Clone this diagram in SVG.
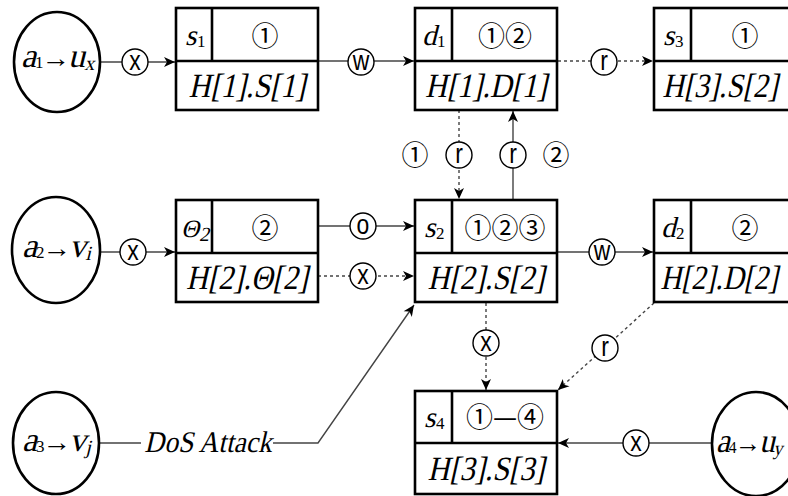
<svg xmlns="http://www.w3.org/2000/svg" width="788" height="496" viewBox="0 0 788 496">
  <style>
    .bx rect { fill: #fff; stroke: #000; stroke-width: 2.6; }
    .bx line { stroke: #000; stroke-width: 2.6; }
    .ag ellipse { fill: #fff; stroke: #000; stroke-width: 2.6; }
    /* serif text; slanted ones get a skewX transform */
    .sf { font-family: "Liberation Serif", serif; font-style: normal; fill: #000; }
    .big { font-size: 34px; text-anchor: middle; }
    .cell { font-size: 29px; }
    .sub { font-size: 17px; }
    .subi { font-size: 20px; }
    .arr { font-size: 26px; text-anchor: middle; }
    .cd { font-family: "Noto Sans CJK JP", "DejaVu Sans", sans-serif; font-size: 27px; text-anchor: middle; fill: #000; }
    .c { fill: none; stroke: #444; stroke-width: 1.4; }
    .d { stroke-dasharray: 3 3; }
    .lb circle { fill: #fff; stroke: #000; stroke-width: 1.4; }
    .lb text { font-family: "Liberation Sans", sans-serif; font-size: 27px; text-anchor: middle; fill: #000; }
  </style>
  <defs>
    <marker id="ah" viewBox="-1 -6 13 12" markerWidth="13" markerHeight="12" refX="11" refY="0" orient="auto" markerUnits="userSpaceOnUse">
      <path d="M0,-5 L11,0 L0,5 L3,0 Z" fill="#000"/>
    </marker>
  </defs>
  <rect width="788" height="496" fill="#fff"/>

  <!-- connectors and their operation labels -->
  <g id="connectors">
    <path class="c" d="M100,62 H175" marker-end="url(#ah)"/>
    <path class="c" d="M318,61 H414" marker-end="url(#ah)"/>
    <path class="c d" d="M558,61 H653" marker-end="url(#ah)"/>
    <path class="c" d="M100,252 H175" marker-end="url(#ah)"/>
    <path class="c" d="M318,226 H414" marker-end="url(#ah)"/>
    <path class="c d" d="M318,276 H414" marker-end="url(#ah)"/>
    <path class="c" d="M557,252 H653" marker-end="url(#ah)"/>
    <path class="c d" d="M459,110 V199" marker-end="url(#ah)"/>
    <path class="c" d="M513,200 V111" marker-end="url(#ah)"/>
    <path class="c d" d="M486,303 V390" marker-end="url(#ah)"/>
    <path class="c d" d="M654,303 L558,390" marker-end="url(#ah)"/>
    <path class="c" d="M712,443 H558" marker-end="url(#ah)"/>
    <path class="c" d="M100,443 H141 M273,443 H318 L414,305" marker-end="url(#ah)"/>
    <text class="sf" font-size="30" text-anchor="middle" transform="translate(208,452) scale(0.915,1) skewX(-14)">DoS Attack</text>

    <g class="lb">
      <circle cx="135" cy="62" r="13"/><text transform="translate(135,70) scale(0.85,1)">x</text>
      <circle cx="361" cy="62" r="13"/><text transform="translate(361,70) scale(0.85,1)">w</text>
      <circle cx="604" cy="62" r="13"/><text transform="translate(604,70) scale(0.85,1)">r</text>
      <circle cx="133" cy="252" r="13"/><text transform="translate(133,260) scale(0.85,1)">x</text>
      <circle cx="363" cy="226" r="13"/><text transform="translate(363,234) scale(0.85,1)">o</text>
      <circle cx="363" cy="276" r="13"/><text transform="translate(363,284) scale(0.85,1)">x</text>
      <circle cx="602" cy="252" r="13"/><text transform="translate(602,260) scale(0.85,1)">w</text>
      <circle cx="459" cy="155" r="13"/><text transform="translate(459,163) scale(0.85,1)">r</text>
      <circle cx="513" cy="155" r="13"/><text transform="translate(513,163) scale(0.85,1)">r</text>
      <circle cx="486" cy="343" r="13"/><text transform="translate(486,351) scale(0.85,1)">x</text>
      <circle cx="605" cy="348" r="13"/><text transform="translate(605,356) scale(0.85,1)">r</text>
      <circle cx="636" cy="443" r="13"/><text transform="translate(636,451) scale(0.85,1)">x</text>
    </g>
    <text class="cd" x="415" y="165">①</text>
    <text class="cd" x="556" y="165">②</text>
  </g>

  <!-- agents: a_k → target -->
  <g id="a1" class="ag">
    <ellipse cx="57" cy="62" rx="43" ry="50"/>
    <g transform="translate(21,67)">
      <text class="sf" font-size="34" transform="skewX(-14)">a</text>
      <text class="sf sub" x="14" y="1">1</text>
      <text class="sf arr" transform="translate(35,0) scale(1.1,1)">→</text>
      <text class="sf" font-size="34" x="47" transform="skewX(-14)">u</text>
      <text class="sf subi" x="64" y="3" transform="skewX(-14)">x</text>
    </g>
  </g>
  <g id="a2" class="ag">
    <ellipse cx="56" cy="250" rx="44" ry="53"/>
    <g transform="translate(22,257)">
      <text class="sf" font-size="34" transform="skewX(-14)">a</text>
      <text class="sf sub" x="14" y="1">2</text>
      <text class="sf arr" transform="translate(35,0) scale(1.1,1)">→</text>
      <text class="sf" font-size="34" x="47" transform="skewX(-14)">v</text>
      <text class="sf subi" x="64" y="3" transform="skewX(-14)">i</text>
    </g>
  </g>
  <g id="a3" class="ag">
    <ellipse cx="56" cy="443" rx="43" ry="51"/>
    <g transform="translate(22,451)">
      <text class="sf" font-size="34" transform="skewX(-14)">a</text>
      <text class="sf sub" x="14" y="1">3</text>
      <text class="sf arr" transform="translate(35,0) scale(1.1,1)">→</text>
      <text class="sf" font-size="34" x="47" transform="skewX(-14)">v</text>
      <text class="sf subi" x="64" y="3" transform="skewX(-14)">j</text>
    </g>
  </g>
  <g id="a4" class="ag">
    <ellipse cx="756" cy="444" rx="44" ry="52"/>
    <g transform="translate(716,452) scale(0.92,1)">
      <text class="sf" font-size="34" transform="skewX(-14)">a</text>
      <text class="sf sub" x="14" y="1">4</text>
      <text class="sf arr" transform="translate(35,0) scale(1.1,1)">→</text>
      <text class="sf" font-size="34" x="47" transform="skewX(-14)">u</text>
      <text class="sf subi" x="63" y="3" transform="skewX(-14)">y</text>
    </g>
  </g>

  <!-- state boxes -->
  <g id="s1" class="bx">
    <rect x="176" y="8" width="142" height="102"/>
    <line x1="176" y1="61" x2="318" y2="61"/><line x1="212" y1="8" x2="212" y2="61"/>
    <text class="sf cell" transform="translate(185,45) skewX(-14)">s</text>
    <text class="sf sub" x="197" y="47">1</text>
    <text class="cd" x="265" y="46">①</text>
    <text class="sf big" transform="translate(247,97) scale(0.89,1) skewX(-14)">H[1].S[1]</text>
  </g>
  <g id="d1" class="bx">
    <rect x="415" y="8" width="142" height="102"/>
    <line x1="415" y1="61" x2="557" y2="61"/><line x1="452" y1="8" x2="452" y2="61"/>
    <text class="sf cell" transform="translate(422,45) skewX(-14)">d</text>
    <text class="sf sub" x="437" y="47">1</text>
    <text class="cd" x="505" y="46">①②</text>
    <text class="sf big" transform="translate(486,97) scale(0.89,1) skewX(-14)">H[1].D[1]</text>
  </g>
  <g id="s3" class="bx">
    <rect x="654" y="8" width="142" height="102"/>
    <line x1="654" y1="61" x2="796" y2="61"/><line x1="691" y1="8" x2="691" y2="61"/>
    <text class="sf cell" transform="translate(663,45) skewX(-14)">s</text>
    <text class="sf sub" x="675" y="47">3</text>
    <text class="cd" x="745" y="46">①</text>
    <text class="sf big" transform="translate(720,97) scale(0.88,1) skewX(-14)">H[3].S[2]</text>
  </g>
  <g id="theta2" class="bx">
    <rect x="176" y="200" width="142" height="102"/>
    <line x1="176" y1="253" x2="318" y2="253"/><line x1="212" y1="200" x2="212" y2="253"/>
    <text class="sf" font-size="25" transform="translate(181,237) skewX(-14)">Θ</text>
    <text class="sf subi" transform="translate(199,241) skewX(-14)">2</text>
    <text class="cd" x="265" y="238">②</text>
    <text class="sf big" transform="translate(247,289) scale(0.89,1) skewX(-14)">H[2].Θ[2]</text>
  </g>
  <g id="s2" class="bx">
    <rect x="415" y="200" width="142" height="102"/>
    <line x1="415" y1="253" x2="557" y2="253"/><line x1="452" y1="200" x2="452" y2="253"/>
    <text class="sf cell" transform="translate(424,237) skewX(-14)">s</text>
    <text class="sf sub" x="436" y="239">2</text>
    <text class="cd" x="505" y="238">①②③</text>
    <text class="sf big" transform="translate(486,289) scale(0.89,1) skewX(-14)">H[2].S[2]</text>
  </g>
  <g id="d2" class="bx">
    <rect x="654" y="200" width="142" height="102"/>
    <line x1="654" y1="253" x2="796" y2="253"/><line x1="691" y1="200" x2="691" y2="253"/>
    <text class="sf cell" transform="translate(661,237) skewX(-14)">d</text>
    <text class="sf sub" x="676" y="239">2</text>
    <text class="cd" x="745" y="238">②</text>
    <text class="sf big" transform="translate(719,289) scale(0.86,1) skewX(-14)">H[2].D[2]</text>
  </g>
  <g id="s4" class="bx">
    <rect x="415" y="391" width="142" height="103"/>
    <line x1="415" y1="443" x2="557" y2="443"/><line x1="452" y1="391" x2="452" y2="443"/>
    <text class="sf cell" transform="translate(424,427) skewX(-14)">s</text>
    <text class="sf sub" x="436" y="429">4</text>
    <text class="cd" x="505" y="427">①—④</text>
    <text class="sf big" transform="translate(486,480) scale(0.89,1) skewX(-14)">H[3].S[3]</text>
  </g>
</svg>
